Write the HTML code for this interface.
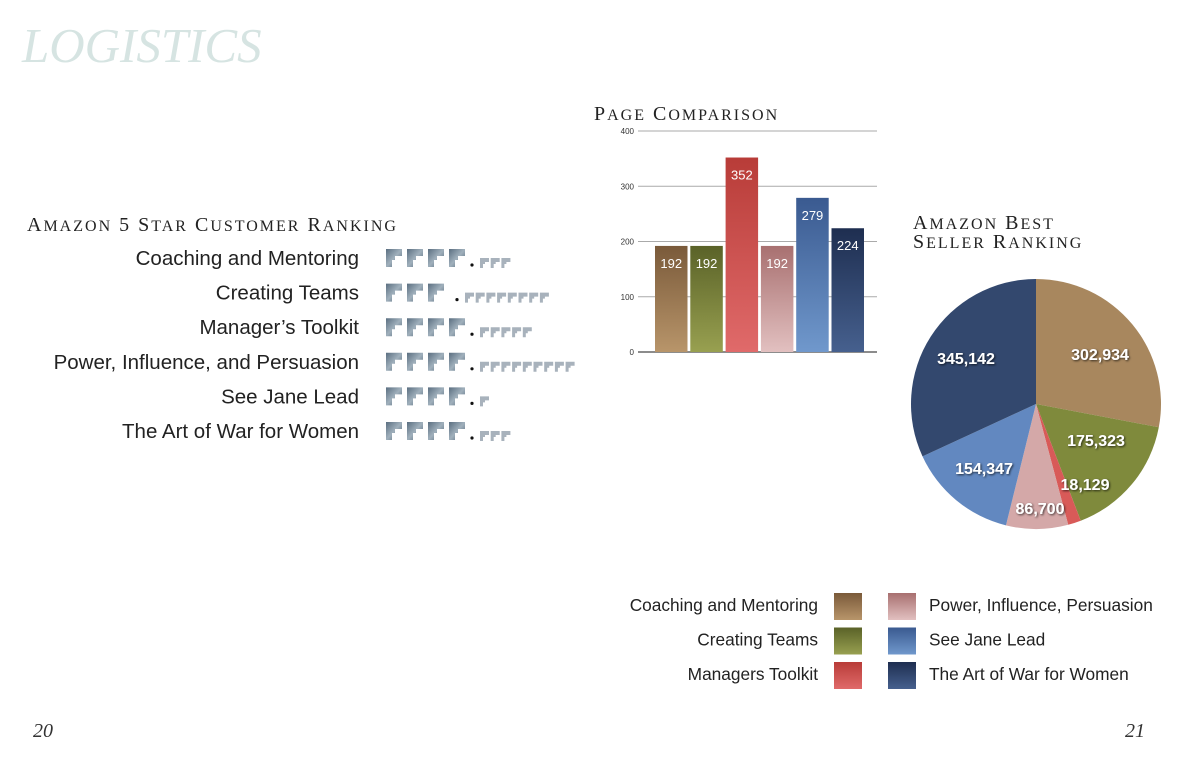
<!DOCTYPE html>
<html><head><meta charset="utf-8"><style>
html,body{margin:0;padding:0;background:#fff;}
body{width:1188px;height:774px;overflow:hidden;position:relative;}
svg{position:absolute;left:0;top:0;}
.serif{font-family:"Liberation Serif",serif;}
.sans{font-family:"Liberation Sans",sans-serif;}
</style></head><body>
<svg id="s" width="1188" height="774" xmlns="http://www.w3.org/2000/svg">
<defs>
<linearGradient id="gBrown" x1="0" y1="0" x2="0" y2="1"><stop offset="0" stop-color="#7a5a3a"/><stop offset="1" stop-color="#b8956a"/></linearGradient>
<linearGradient id="gGreen" x1="0" y1="0" x2="0" y2="1"><stop offset="0" stop-color="#5a6228"/><stop offset="1" stop-color="#98a050"/></linearGradient>
<linearGradient id="gRed" x1="0" y1="0" x2="0" y2="1"><stop offset="0" stop-color="#b83c38"/><stop offset="1" stop-color="#e06a6a"/></linearGradient>
<linearGradient id="gPink" x1="0" y1="0" x2="0" y2="1"><stop offset="0" stop-color="#a87070"/><stop offset="1" stop-color="#e2c0c0"/></linearGradient>
<linearGradient id="gBlue" x1="0" y1="0" x2="0" y2="1"><stop offset="0" stop-color="#3a5a90"/><stop offset="1" stop-color="#7098cc"/></linearGradient>
<linearGradient id="gNavy" x1="0" y1="0" x2="0" y2="1"><stop offset="0" stop-color="#1e2e50"/><stop offset="1" stop-color="#46608e"/></linearGradient>
<linearGradient id="gIcon" x1="0" y1="0" x2="1" y2="1"><stop offset="0" stop-color="#5a6e80"/><stop offset="0.5" stop-color="#a0b0bc"/><stop offset="1" stop-color="#4a5e70"/></linearGradient>
<filter id="sh"><feDropShadow dx="1" dy="1" stdDeviation="1" flood-color="#000" flood-opacity="0.7"/></filter>
</defs>
<text class="serif" x="22" y="62" font-size="49" font-style="italic" fill="#d6e4e2">LOGISTICS</text>
<text class="serif" x="27" y="231" font-size="20" fill="#222" letter-spacing="2">A<tspan font-size="16">MAZON</tspan> 5 S<tspan font-size="16">TAR</tspan> C<tspan font-size="16">USTOMER</tspan> R<tspan font-size="16">ANKING</tspan></text>
<g id="stars"></g>
<text class="serif" x="594" y="120" font-size="20" fill="#222" letter-spacing="2">P<tspan font-size="16">AGE</tspan> C<tspan font-size="16">OMPARISON</tspan></text>
<g id="bars"></g>
<text class="serif" x="913" y="229" font-size="20" fill="#222" letter-spacing="2">A<tspan font-size="16">MAZON</tspan> B<tspan font-size="16">EST</tspan></text>
<text class="serif" x="913" y="248" font-size="20" fill="#222" letter-spacing="2">S<tspan font-size="16">ELLER</tspan> R<tspan font-size="16">ANKING</tspan></text>
<g id="pie"></g>
<g id="legend"></g>
<text class="serif" x="33" y="737" font-size="20" font-style="italic" fill="#333">20</text>
<text class="serif" x="1125" y="737" font-size="20" font-style="italic" fill="#333">21</text>
</svg>
<script>
const books=["Coaching and Mentoring","Creating Teams","Manager’s Toolkit","Power, Influence, and Persuasion","See Jane Lead","The Art of War for Women"];
const starsFull=[4,3,4,4,4,4];
const starsLight=[3,8,5,9,1,3];
const pages=[192,192,352,192,279,224];
const yTicks=[0,100,200,300,400];
const ranks=[302934,175323,18129,86700,154347,345142];
const rankLabels=["302,934","175,323","18,129","86,700","154,347","345,142"];
const legendNames=["Coaching and Mentoring","Creating Teams","Managers Toolkit","Power, Influence, Persuasion","See Jane Lead","The Art of War for Women"];
const fills=["url(#gBrown)","url(#gGreen)","url(#gRed)","url(#gPink)","url(#gBlue)","url(#gNavy)"];
const NS="http://www.w3.org/2000/svg";
function mk(tag,attrs,parent,txt){const e=document.createElementNS(NS,tag);for(const k in attrs)e.setAttribute(k,attrs[k]);if(txt!==undefined)e.textContent=txt;parent.appendChild(e);return e;}
// star rows
const sg=document.getElementById('stars');
books.forEach((b,i)=>{
  const y=258+i*34.6;
  const t=mk('text',{x:359,y:y+7,'text-anchor':'end','font-size':20.5,fill:'#222',class:'sans'},sg,b);
  
  
  let x=386;
  for(let k=0;k<starsFull[i];k++){
    const p=mk('path',{d:`M${x} ${y-9}h16v7h-7v4h-3v7h-6z`,fill:'url(#gIcon)'},sg);
    
    
    x+=21;
  }
  const dx=starsFull[i]===3?x+6:x;
  const d=mk('circle',{cx:dx+2,cy:y+7,r:1.6,fill:'#111'},sg);
  
  
  x=dx+10;
  for(let k=0;k<starsLight[i];k++){
    const p=mk('path',{d:`M${x} ${y}h9v4h-4v2h-2v4h-3z`,fill:'#a8b2bc'},sg);
    
    
    x+=10.7;
  }
});
// bar chart
const bg=document.getElementById('bars');
const y0=352,y1=131,vmax=400;
const yS=v=>y0-(y0-y1)*v/vmax;
yTicks.forEach(v=>{
  const l=mk('line',{x1:638,x2:877,y1:yS(v),y2:yS(v),stroke:v===0?'#666':'#aaa','stroke-width':v===0?1.5:1},bg);
  
  
  const t=mk('text',{x:634,y:yS(v)+3,'text-anchor':'end','font-size':8,fill:'#333',class:'sans'},bg,String(v));
  
  
});
const xS=i=>655+i*35.3;
pages.forEach((v,i)=>{
  const r=mk('rect',{x:xS(i),y:yS(v),width:32.5,height:y0-yS(v),fill:fills[i]},bg);
  
  
  const t=mk('text',{x:xS(i)+16.25,y:yS(v)+22,'text-anchor':'middle','font-size':13,fill:'#fff',class:'sans'},bg,String(v));
  
  
});
// pie
const pg=document.getElementById('pie');
const cx=1036,cy=404,R=125;
const total=ranks.reduce((a,b)=>a+b,0);
let a=-Math.PI/2;
const pieFills=["#a8875e","#7f8a3c","#d85a58","#d4a8a8","#6288c0","#33486e"];
ranks.forEach((v,i)=>{
  const da=v/total*2*Math.PI;
  const a2=a+da;
  const x1=cx+R*Math.cos(a),y1p=cy+R*Math.sin(a),x2=cx+R*Math.cos(a2),y2=cy+R*Math.sin(a2);
  const p=mk('path',{d:`M${cx} ${cy}L${x1} ${y1p}A${R} ${R} 0 ${da>Math.PI?1:0} 1 ${x2} ${y2}Z`,fill:pieFills[i]},pg);
  
  
  a=a2;
});
const labPos=[[1100,360],[1096,446],[1085,490],[1040,514],[984,474],[966,364]];
rankLabels.forEach((s,i)=>{
  const t=mk('text',{x:labPos[i][0],y:labPos[i][1],'text-anchor':'middle','font-size':16,'font-weight':'bold',fill:'#fff',class:'sans',filter:'url(#sh)'},pg,s);
  
  
});
// legend
const lg=document.getElementById('legend');
legendNames.forEach((n,i)=>{
  const col=i<3?0:1,row=i%3;
  const y=606+row*34.5;
  const sx=col===0?834:888;
  const r=mk('rect',{x:sx,y:y-13,width:28,height:27,fill:fills[i]},lg);
  
  
  const t=mk('text',{x:col===0?818:929,y:y+5,'text-anchor':col===0?'end':'start','font-size':17.3,fill:'#222',class:'sans'},lg,n);
  
  
});
</script>
</body></html>
